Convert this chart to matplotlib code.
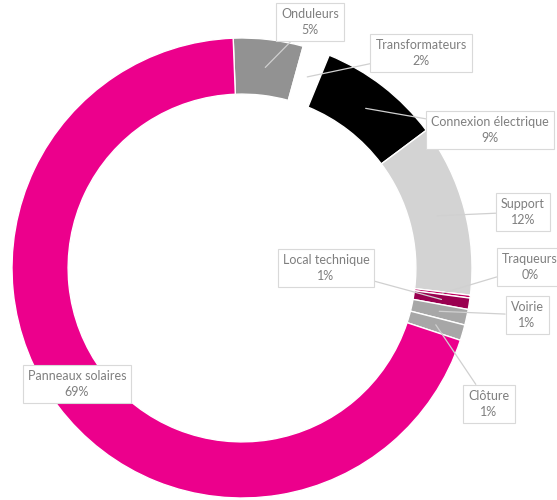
import matplotlib
matplotlib.use("Agg")
import matplotlib.pyplot as plt
import numpy as np

categories = ["Onduleurs", "Transformateurs", "Connexion électrique", "Support",
              "Traqueurs", "Local technique", "Voirie", "Clôture", "Panneaux solaires"]
values = [4.9, 1.9, 8.6, 12.1, 0.2, 0.8, 1.1, 1.1, 69.3]
pct_labels = ["5%", "2%", "9%", "12%", "0%", "1%", "1%", "1%", "69%"]
colors = ["#929292", "#FFFFFF", "#000000", "#D3D3D3", "#C0005F", "#9A0050",
          "#A7A7A7", "#A7A7A7", "#EC008C"]

# label box centres in pixel space (layout)
label_px = [(310, 22), (421, 53), (490, 130), (523, 212), (530, 267),
            (326, 268), (527, 315), (489, 404), (77, 384)]
has_leader = [True, True, True, True, True, True, True, True, False]

W, H = 557, 500
cx, cy, R = 242, 268, 230

fig = plt.figure(figsize=(W / 100, H / 100), dpi=100)
ax = fig.add_axes([0, 0, 1, 1])

start = 92.2
width = 0.244
wedges, _ = ax.pie(values, colors=colors, startangle=start, counterclock=False,
                   radius=1.0, wedgeprops=dict(width=width, edgecolor="white", linewidth=1.0))

ax.set_xlim((0 - cx) / R, (W - cx) / R)
ax.set_ylim((cy - H) / R, (cy - 0) / R)
ax.set_aspect("equal")
ax.axis("off")

total = sum(values)
cum = 0
for i, (cat, v) in enumerate(zip(categories, values)):
    mid = start - (cum + v / 2) / total * 360
    cum += v
    rmid = 1 - width / 2
    ax_pt = (rmid * np.cos(np.radians(mid)), rmid * np.sin(np.radians(mid)))
    px, py = label_px[i]
    lx, ly = (px - cx) / R, (cy - py) / R
    txt = f"{cat}\n{pct_labels[i]}"
    bbox = dict(boxstyle="square,pad=0.4", fc="white", ec="#D9D9D9", lw=0.8)
    if has_leader[i]:
        ax.annotate(txt, xy=ax_pt, xytext=(lx, ly), ha="center", va="center",
                    fontsize=9, color="#7F7F7F", family=["Lato", "DejaVu Sans"],
                    linespacing=1.45, bbox=bbox,
                    arrowprops=dict(arrowstyle="-", color="#D0D0D0", lw=0.9,
                                    shrinkA=0, shrinkB=0))
    else:
        ax.text(lx, ly, txt, ha="center", va="center", fontsize=9, color="#7F7F7F",
                family=["Lato", "DejaVu Sans"], linespacing=1.45, bbox=bbox)

fig.savefig("out.png", dpi=100)
